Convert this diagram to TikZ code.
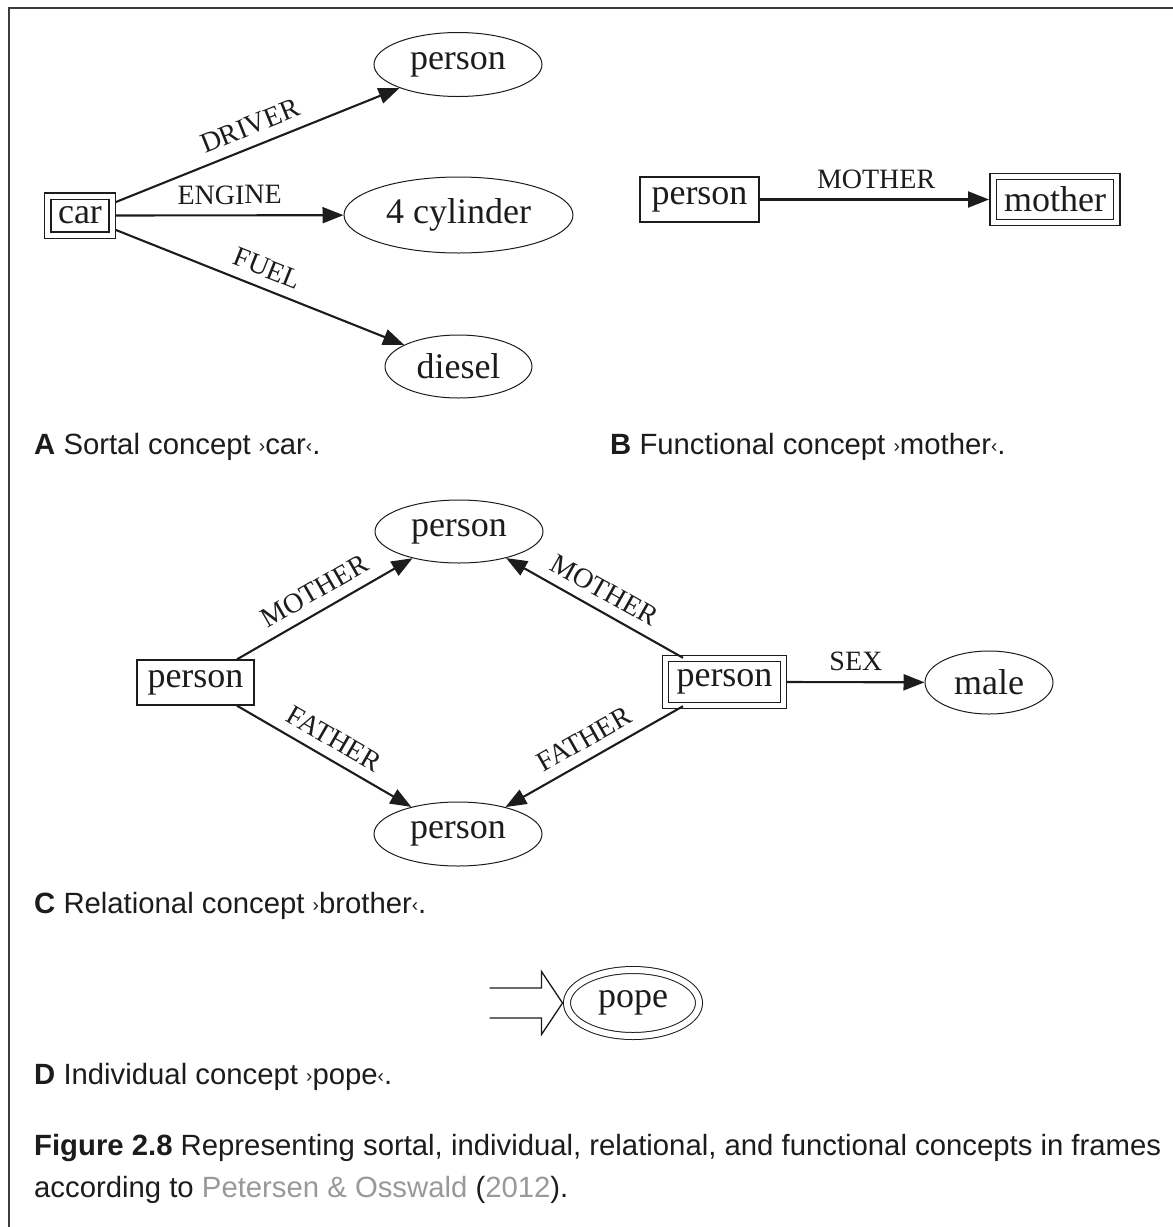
\documentclass[tikz,border=0pt]{standalone}
\usepackage{fontspec}
\setmainfont{Liberation Serif}
\newfontfamily\capfont{Liberation Sans}
\usetikzlibrary{shapes.geometric,arrows.meta}
\definecolor{ink}{HTML}{1C1C1C}
\definecolor{framegray}{HTML}{3C3C3C}
\definecolor{citegray}{HTML}{999999}
\newcommand\nodefont{\fontsize{36}{40}\selectfont}
\newcommand\relfont{\fontsize{28}{31}\selectfont}
\newcommand\captfont{\capfont\fontsize{29.3}{34}\selectfont}
% small quotation marks around a concept name
\newcommand\cq[1]{{\fontsize{19}{19}\selectfont\raisebox{2pt}{›}}#1{\fontsize{19}{19}\selectfont\raisebox{2pt}{‹}}}

\begin{document}
\begin{tikzpicture}[x=1pt,y=-1pt,
  every node/.style={text=ink},
  ell/.style={ellipse, draw=ink, line width=1pt, inner sep=0pt, font=\nodefont},
  box/.style={rectangle, draw=ink, line width=1.4pt, inner sep=0pt, font=\nodefont},
  dbl/.style={double=white, double distance=5pt},
  rel/.style={draw=ink, line width=2.1pt, -{Triangle[length=21pt,width=16pt]}},
  lab/.style={font=\relfont, inner sep=0pt, sloped, above=10pt, midway},
  caption/.style={font=\captfont, anchor=base west, inner sep=0pt}
]
\useasboundingbox (0,0) rectangle (1173,1227);

% frame rule along the top and left
\draw[framegray, line width=2pt] (8.5,1227) -- (8.5,7.5) -- (1173,7.5);

% A: sortal concept
\node[box, dbl, minimum width=64.5pt, minimum height=39pt] (car) at (80,215.5) {car};
\node[ell, minimum width=168pt, minimum height=64pt] (drv) at (458,64.5) {person};
\node[ell, minimum width=229pt, minimum height=76pt] (eng) at (458.5,215) {4 cylinder};
\node[ell, minimum width=147pt, minimum height=63pt] (ful) at (458.5,366.5) {diesel};
\draw[rel] ([xshift=3pt,yshift=13.5pt]car.east) -- (drv) node[lab]{DRIVER};
\draw[rel] ([xshift=3pt]car.east) -- (eng) node[lab]{ENGINE};
\draw[rel] ([xshift=3pt,yshift=-14.5pt]car.east) -- (ful) node[lab]{FUEL};

% B: functional concept
\node[box, minimum width=119pt, minimum height=45pt] (fp) at (699.5,199.5) {person};
\node[box, dbl, minimum width=123.5pt, minimum height=46pt] (mo) at (1055,199.5) {mother};
\draw[rel, shorten >=3.5pt] (fp) -- (mo) node[lab]{MOTHER};

% C: relational concept
\node[ell, minimum width=168pt, minimum height=63pt] (cm) at (459,531.5) {person};
\node[ell, minimum width=168pt, minimum height=64pt] (cf) at (458,834) {person};
\node[box, minimum width=117pt, minimum height=45pt] (cl) at (195.5,682.5) {person};
\node[box, dbl, minimum width=118pt, minimum height=47pt] (cr) at (724.5,682) {person};
\node[ell, minimum width=128pt, minimum height=63pt] (ml) at (989,682.5) {male};
\draw[rel] ([xshift=41.5pt]cl.north) -- (cm) node[lab]{MOTHER};
\draw[rel] ([xshift=41.5pt]cl.south) -- (cf) node[lab]{FATHER};
\draw[rel] ([xshift=-41.5pt]cr.north) -- (cm) node[lab]{MOTHER};
\draw[rel] ([xshift=-41.5pt]cr.south) -- (cf) node[lab]{FATHER};
\draw[rel] ([xshift=3pt]cr.east) -- (ml) node[lab]{SEX};

% D: individual concept
\node[ell, dbl, double distance=6pt, minimum width=132pt, minimum height=66pt] (pp) at (633,1003) {pope};
\coordinate (tip) at ([xshift=-4pt]pp.west);
\draw[ink, line width=1.3pt, line join=miter]
  ([xshift=-73pt,yshift=15pt]tip) -- ([xshift=-21pt,yshift=15pt]tip)
  -- ([xshift=-21pt,yshift=31.5pt]tip) -- (tip)
  -- ([xshift=-21pt,yshift=-31.5pt]tip) -- ([xshift=-21pt,yshift=-15pt]tip)
  -- ([xshift=-73pt,yshift=-15pt]tip);

% captions
\node[caption] (ca) at (34,454) {\textbf{A} Sortal concept \cq{car}.};
\node[caption] (cb) at (610,454) {\textbf{B} Functional concept \cq{mother}.};
\node[caption] (cc) at (34,913) {\textbf{C} Relational concept \cq{brother}.};
\node[caption] (cd) at (34,1084) {\textbf{D} Individual concept \cq{pope}.};
\node[caption] (fig) at (34,1155) {\textbf{Figure 2.8} Representing sortal, individual, relational, and functional concepts in frames};
\node[caption] (src) at (34,1197) {according to \textcolor{citegray}{Petersen \& Osswald} (\textcolor{citegray}{2012}).};
\end{tikzpicture}
\end{document}
